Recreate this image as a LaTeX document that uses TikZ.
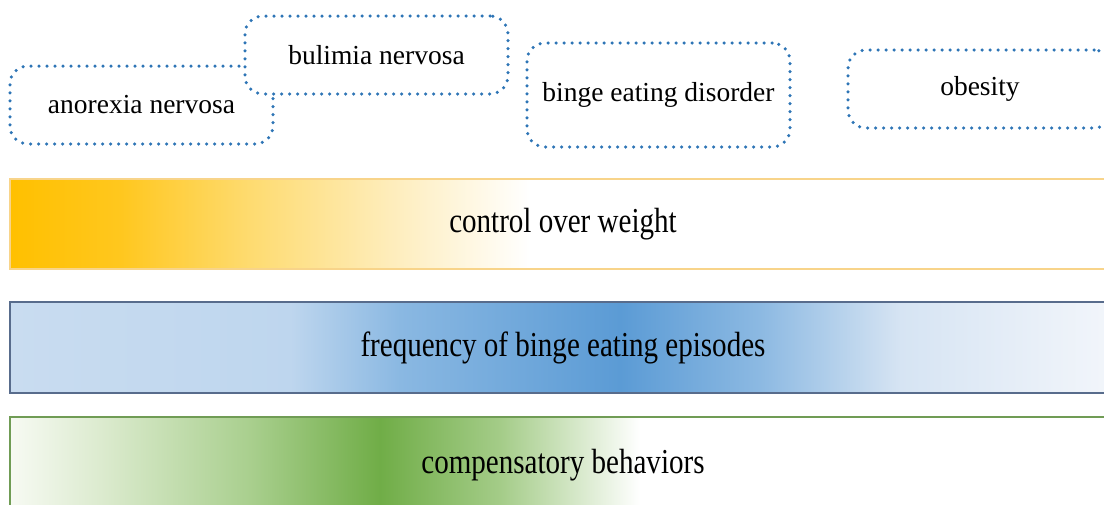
\documentclass[tikz,border=0pt]{standalone}
\usepackage{fontspec}
\setmainfont{Liberation Serif}
\newfontfamily\barfont[FakeStretch=0.83]{Liberation Serif}
\usepackage{tikz}
\definecolor{dotblue}{RGB}{46, 117, 182}
\definecolor{ywline}{RGB}{248, 212, 138}
\definecolor{blline}{RGB}{88, 108, 140}
\definecolor{grline}{RGB}{112, 156, 85}
\pgfdeclarehorizontalshading{weightshade}{100bp}{color(0bp)=(white); color(25bp)=(rgb,255:red,255;green,192;blue,0); color(29.97bp)=(rgb,255:red,255;green,199;blue,30); color(35.85bp)=(rgb,255:red,254;green,219;blue,112); color(42.63bp)=(rgb,255:red,254;green,238;blue,192); color(48.5bp)=(white); color(100bp)=(white)}
\pgfdeclarehorizontalshading{bingeshade}{100bp}{color(0bp)=(white); color(25bp)=(rgb,255:red,201;green,220;blue,240); color(37.66bp)=(rgb,255:red,190;green,214;blue,238); color(42.63bp)=(rgb,255:red,138;green,184;blue,226); color(52.58bp)=(rgb,255:red,91;green,155;blue,213); color(58.9bp)=(rgb,255:red,140;green,185;blue,226); color(65.23bp)=(rgb,255:red,214;green,228;blue,243); color(75bp)=(rgb,255:red,243;green,246;blue,251); color(100bp)=(white)}
\pgfdeclarehorizontalshading{compshade}{100bp}{color(0bp)=(white); color(25bp)=(rgb,255:red,247;green,250;blue,243); color(29.07bp)=(rgb,255:red,220;green,235;blue,207); color(35.85bp)=(rgb,255:red,169;green,207;blue,142); color(41.73bp)=(rgb,255:red,112;green,173;blue,71); color(47.15bp)=(rgb,255:red,164;green,204;blue,136); color(53.48bp)=(white); color(100bp)=(white)}
\usetikzlibrary{positioning}

\begin{document}
\begin{tikzpicture}
			[x=1pt, y=-1pt,
			disorder/.style={rectangle, rounded corners=18pt, draw=dotblue, fill=white, line width=3.5pt, line cap=round, dash pattern=on 0pt off 8pt, inner sep=0pt, font=\fontsize{27.5}{30}\selectfont},
			bar/.style={rectangle, minimum width=1106pt, inner sep=0pt, line width=1.5pt, shade, font=\barfont\fontsize{35}{40}\selectfont}]
			\clip (0, 0) rectangle (1104, 504);
			\node (anorexia) [disorder, minimum width=263pt, minimum height=78pt] at (141.5, 105) {anorexia nervosa};
			\node (bulimia) [disorder, minimum width=263pt, minimum height=78pt] at (376.5, 55) {bulimia nervosa};
			\node (binge) [disorder, minimum width=263pt, minimum height=104pt] at (658.5, 95) {binge eating disorder};
			\node (obesity) [disorder, minimum width=264pt, minimum height=78pt] at (980, 89) {obesity};
			\node (weight) [bar, minimum height=90pt, draw=ywline, shading=weightshade] at (563, 224) {\raisebox{-3pt}{control over weight}};
			\node (frequency) [bar, minimum height=91pt, draw=blline, shading=bingeshade] at (563, 347.5) {\raisebox{-3pt}{frequency of binge eating episodes}};
			\node (compensatory) [bar, minimum height=96pt, draw=grline, shading=compshade] at (563, 465) {\raisebox{-2pt}{compensatory behaviors}};
	\end{tikzpicture}
\end{document}
